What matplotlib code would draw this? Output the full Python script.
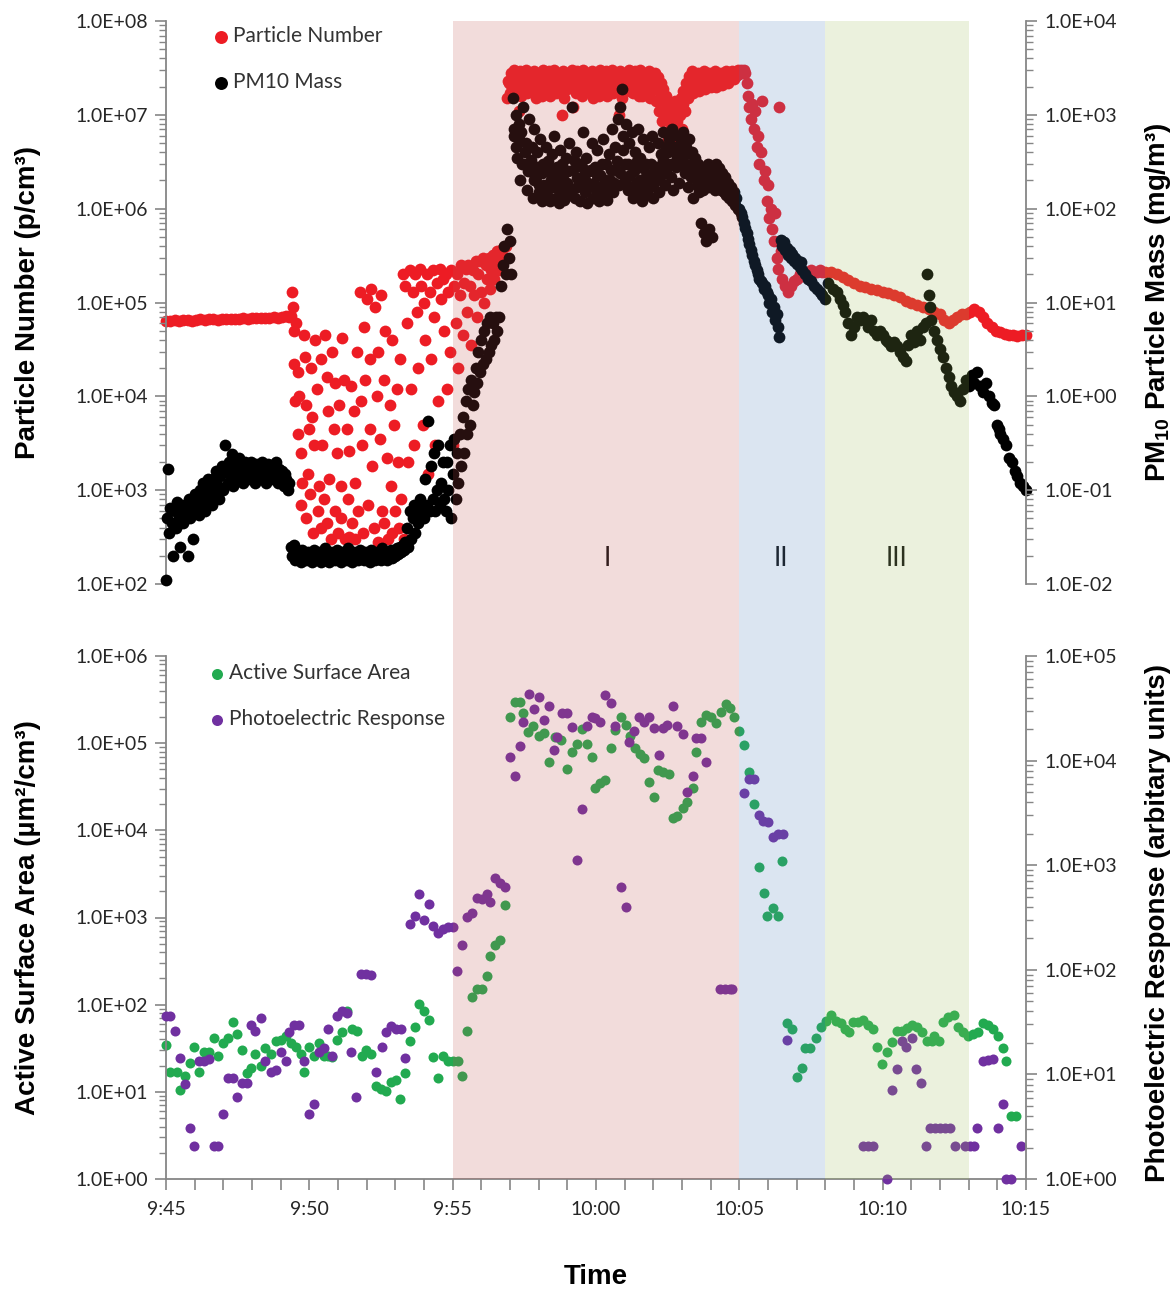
"""
plot.py - particle number / PM10 mass and surface area / photoelectric response vs time.
"""
import matplotlib
matplotlib.use("Agg")
import matplotlib.pyplot as plt
from matplotlib.patches import Rectangle
from matplotlib.ticker import FuncFormatter, LogLocator, MultipleLocator, NullFormatter
from matplotlib.transforms import blended_transform_factory

plt.rcParams["font.family"] = ["Lato", "DejaVu Sans"]
plt.rcParams["mathtext.fontset"] = "custom"
plt.rcParams["mathtext.bf"] = "Liberation Sans:bold"
plt.rcParams["mathtext.rm"] = "Liberation Sans:bold"

# time is minutes after 9:45
START_H, START_M = 9, 45

# (minute, particles per cm3)
PARTICLE_NUMBER = [
    (0.0, 6.4e4), (0.15, 6.4e4), (0.3, 6.5e4), (0.45, 6.4e4), (0.6, 6.5e4), (0.75, 6.5e4),
    (0.9, 6.4e4), (1.05, 6.5e4), (1.2, 6.6e4), (1.35, 6.5e4), (1.5, 6.6e4), (1.65, 6.6e4),
    (1.8, 6.5e4), (1.95, 6.6e4), (2.1, 6.7e4), (2.25, 6.7e4), (2.4, 6.6e4), (2.55, 6.7e4),
    (2.7, 6.8e4), (2.85, 6.7e4), (3.0, 6.8e4), (3.15, 6.8e4), (3.3, 6.9e4), (3.45, 6.8e4),
    (3.6, 6.9e4), (3.75, 7.0e4), (3.9, 6.9e4), (4.05, 7.0e4), (4.2, 7.1e4), (4.3, 7.0e4),
    (4.35, 7.2e4), (4.4, 1.3e5), (4.42, 9e4), (4.45, 5e4), (4.48, 2.2e4), (4.5, 9e3),
    (4.55, 6e4), (4.6, 1.8e4), (4.62, 4e3), (4.65, 1e4), (4.7, 2.5e3), (4.72, 7e2),
    (4.75, 1.2e3), (4.8, 4.5e4), (4.85, 2.6e4), (4.88, 5e2), (4.9, 8e3), (4.95, 1.5e3),
    (5.0, 4.5e3), (5.02, 9e2), (5.05, 2e4), (5.1, 6e3), (5.12, 3.5e2), (5.15, 3e3),
    (5.2, 4e4), (5.25, 1.2e4), (5.3, 6e2), (5.35, 1.1e3), (5.4, 4e2), (5.42, 2.5e4),
    (5.45, 3e3), (5.5, 8e2), (5.55, 4.5e4), (5.6, 1.6e4), (5.62, 4.5e2), (5.65, 7e3),
    (5.7, 1.3e3), (5.75, 3e2), (5.8, 3e4), (5.85, 4.5e3), (5.88, 6e2), (5.9, 1.4e4),
    (5.95, 2.5e3), (6.0, 3.5e2), (6.05, 8e3), (6.1, 1.1e3), (6.12, 5e2), (6.15, 4.2e4),
    (6.2, 1.5e4), (6.25, 3e2), (6.3, 4.5e3), (6.35, 8e2), (6.38, 3.2e2), (6.4, 2.6e3),
    (6.45, 1.3e4), (6.5, 4.5e2), (6.55, 7e3), (6.58, 1.2e3), (6.6, 3e2), (6.65, 3e4),
    (6.7, 6e2), (6.75, 1.3e5), (6.8, 9e3), (6.85, 3e3), (6.88, 3.5e2), (6.9, 5.5e4),
    (6.95, 1.5e4), (7.0, 1.1e5), (7.05, 7e2), (7.1, 2.5e4), (7.12, 4.5e3), (7.15, 1.4e5),
    (7.2, 1.8e3), (7.25, 4e2), (7.3, 9e4), (7.35, 1e4), (7.38, 2.8e2), (7.4, 3e4),
    (7.45, 3.5e3), (7.5, 1.2e5), (7.55, 6e2), (7.6, 1.5e4), (7.62, 4.5e2), (7.65, 5e4),
    (7.7, 2.2e3), (7.75, 3e2), (7.8, 8e3), (7.85, 1.1e3), (7.88, 3.5e2), (7.9, 4e4),
    (7.95, 5e3), (8.0, 6e2), (8.05, 1.2e4), (8.1, 2e3), (8.12, 4e2), (8.15, 2.5e4),
    (8.2, 8e2), (8.25, 2e5), (8.3, 3e2), (8.35, 1.5e5), (8.4, 6e4), (8.45, 2e3),
    (8.5, 2.2e5), (8.55, 1.2e4), (8.6, 1.3e5), (8.65, 3e3), (8.7, 2e5), (8.75, 8e4),
    (8.8, 2e4), (8.85, 2.3e5), (8.9, 1.5e5), (8.95, 5e3), (9.0, 1e5), (9.05, 4e4),
    (9.1, 2e5), (9.15, 1.5e3), (9.2, 1.3e5), (9.25, 2.5e4), (9.3, 2.2e5), (9.35, 7e4),
    (9.4, 3e3), (9.45, 1.6e5), (9.5, 9e3), (9.55, 2.3e5), (9.6, 1.1e5),
    (9.65, 1.8e5), (9.7, 5e4), (9.75, 2e5), (9.8, 1.2e4), (9.85, 1.3e5), (9.9, 3e4),
    (9.95, 2.2e5), (10.0, 3e3), (10.05, 1.5e5), (10.1, 6e4), (10.15, 2e5), (10.2, 2e4),
    (10.25, 1.2e5), (10.3, 2.5e5), (10.35, 4.5e4), (10.4, 1.6e5), (10.45, 2.3e5), (10.5, 8e4),
    (10.55, 2.5e5), (10.6, 1.5e5), (10.65, 3.5e4), (10.7, 2.2e5), (10.75, 1.2e5), (10.8, 2.8e5),
    (10.85, 7e4), (10.9, 2e5), (10.95, 2.8e5), (11.0, 1.3e5), (11.05, 3e5), (11.1, 1e5),
    (11.15, 2.5e5), (11.2, 1.8e5), (11.25, 3e5), (11.3, 1.4e5), (11.35, 2.2e5), (11.4, 3.2e5),
    (11.45, 1.8e5), (11.5, 2.8e5), (11.55, 3.5e5), (11.6, 2.2e5), (11.65, 3.3e5), (11.7, 2.6e5),
    (11.75, 3.8e5), (11.8, 3e5), (11.85, 4e5),
    (11.90, 1.5e7), (11.95, 2.2e7), (12.00, 1.7e7), (12.05, 2.8e7), (12.10, 1.6e7), (12.15, 3.0e7),
    (12.20, 1.9e7), (12.25, 2.6e7), (12.30, 1.1e7), (12.35, 2.9e7), (12.40, 1.6e7), (12.45, 2.5e7),
    (12.50, 2.0e7), (12.55, 3.0e7), (12.60, 1.7e7), (12.65, 2.7e7), (12.70, 1.8e7), (12.75, 2.4e7),
    (12.80, 2.2e7), (12.85, 2.9e7), (12.90, 1.5e7), (12.95, 2.6e7), (13.00, 1.9e7), (13.05, 2.8e7),
    (13.10, 1.6e7), (13.15, 3.0e7), (13.20, 2.1e7), (13.25, 2.6e7), (13.30, 1.7e7), (13.35, 2.9e7),
    (13.40, 1.6e7), (13.45, 2.5e7), (13.50, 2.0e7), (13.55, 3.0e7), (13.60, 1.7e7), (13.65, 2.7e7),
    (13.70, 1.8e7), (13.75, 2.4e7), (13.80, 1.0e7), (13.85, 2.9e7), (13.90, 1.5e7), (13.95, 2.6e7),
    (14.00, 1.9e7), (14.05, 2.8e7), (14.10, 2.2e7), (14.15, 3.0e7), (14.20, 1.2e7), (14.25, 2.6e7),
    (14.30, 1.7e7), (14.35, 2.9e7), (14.40, 2.1e7), (14.45, 2.5e7), (14.50, 1.6e7), (14.55, 3.0e7),
    (14.60, 1.8e7), (14.65, 2.7e7), (14.70, 1.8e7), (14.75, 2.4e7), (14.80, 2.2e7), (14.85, 2.9e7),
    (14.90, 1.5e7), (14.95, 2.6e7), (15.00, 1.9e7), (15.05, 2.8e7), (15.10, 1.6e7), (15.15, 3.0e7),
    (15.20, 2.0e7), (15.25, 2.6e7), (15.30, 1.7e7), (15.35, 2.9e7), (15.40, 1.6e7), (15.45, 2.5e7),
    (15.50, 2.1e7), (15.55, 3.0e7), (15.60, 1.7e7), (15.65, 2.7e7), (15.70, 1.8e7), (15.75, 2.4e7),
    (15.80, 1.0e7), (15.85, 2.9e7), (15.90, 1.5e7), (15.95, 2.6e7), (16.00, 1.9e7), (16.05, 2.8e7),
    (16.10, 2.2e7), (16.15, 3.0e7), (16.20, 1.8e7), (16.25, 2.6e7), (16.30, 1.7e7), (16.35, 2.9e7),
    (16.40, 2.0e7), (16.45, 2.5e7), (16.50, 1.6e7), (16.55, 3.0e7), (16.60, 1.6e7), (16.65, 2.7e7),
    (16.70, 1.8e7), (16.75, 2.4e7), (16.80, 2.2e7), (16.85, 2.9e7), (16.90, 1.5e7), (16.95, 2.6e7),
    (17.00, 1.9e7), (17.05, 2.8e7), (17.10, 1.4e7), (17.15, 2.5e7), (17.20, 1.1e7), (17.25, 2.2e7),
    (17.30, 8.5e6), (17.35, 1.9e7), (17.40, 6.5e6), (17.45, 1.6e7), (17.50, 5.5e6), (17.55, 1.3e7),
    (17.60, 4.5e6), (17.65, 1.1e7), (17.70, 6.0e6), (17.75, 1.4e7), (17.80, 5.0e6), (17.85, 1.2e7),
    (17.90, 4.3e6), (17.95, 1.5e7), (18.00, 7.0e6), (18.05, 1.8e7), (18.10, 1.1e7), (18.15, 2.2e7),
    (18.20, 1.5e7), (18.25, 2.6e7), (18.30, 1.9e7), (18.35, 2.9e7), (18.40, 1.7e7), (18.45, 2.5e7),
    (18.50, 2.1e7), (18.55, 2.8e7), (18.60, 1.8e7), (18.65, 2.4e7), (18.70, 2.2e7), (18.75, 2.9e7),
    (18.80, 1.9e7), (18.85, 2.6e7), (18.90, 2.3e7), (18.95, 2.8e7), (19.00, 2.0e7), (19.05, 2.5e7),
    (19.10, 2.2e7), (19.15, 2.9e7), (19.20, 2.0e7), (19.25, 2.6e7), (19.30, 2.3e7), (19.35, 2.8e7),
    (19.40, 2.1e7), (19.45, 2.6e7), (19.50, 2.4e7), (19.55, 2.9e7), (19.60, 2.2e7), (19.65, 2.7e7),
    (19.70, 2.5e7), (19.75, 2.9e7), (19.80, 2.4e7), (19.85, 2.8e7), (19.90, 2.6e7), (19.95, 3.0e7),
    (20.00, 2.7e7), (20.05, 3.0e7), (20.10, 2.9e7), (20.15, 3.0e7),
    (11.925, 2.3e7), (12.025, 2.1e7), (12.125, 2.4e7), (12.225, 2.2e7), (12.325, 2.0e7),
    (12.425, 2.6e7), (12.525, 2.3e7), (12.625, 2.1e7), (12.725, 2.5e7), (12.825, 2.0e7),
    (12.925, 2.4e7), (13.025, 2.2e7), (13.125, 2.6e7), (13.225, 2.0e7), (13.325, 2.3e7),
    (13.425, 2.1e7), (13.525, 2.5e7), (13.625, 2.2e7), (13.725, 2.0e7), (13.825, 2.4e7),
    (13.925, 2.2e7), (14.025, 2.6e7), (14.125, 2.0e7), (14.225, 2.3e7), (14.325, 2.1e7),
    (14.425, 2.5e7), (14.525, 2.2e7), (14.625, 2.0e7), (14.725, 2.4e7), (14.825, 2.2e7),
    (14.925, 2.6e7), (15.025, 2.0e7), (15.125, 2.3e7), (15.225, 2.1e7), (15.325, 2.5e7),
    (15.425, 2.2e7), (15.525, 2.0e7), (15.625, 2.4e7), (15.725, 2.2e7), (15.825, 2.6e7),
    (15.925, 2.0e7), (16.025, 2.3e7), (16.125, 2.1e7), (16.225, 2.5e7), (16.325, 2.2e7),
    (16.425, 2.0e7), (16.525, 2.4e7), (16.625, 2.2e7), (16.725, 2.6e7), (16.825, 2.0e7),
    (16.925, 2.3e7), (17.025, 2.1e7), (17.125, 1.9e7), (17.225, 1.7e7), (17.325, 1.4e7),
    (17.425, 1.1e7), (17.525, 9e6), (17.625, 8e6), (17.725, 9.5e6), (17.825, 8.5e6),
    (17.925, 1.0e7), (18.025, 1.3e7), (18.125, 1.6e7), (18.225, 2.0e7), (18.325, 2.3e7),
    (18.425, 2.1e7), (18.525, 2.4e7), (18.625, 2.2e7), (18.725, 2.6e7), (18.825, 2.3e7),
    (18.925, 2.5e7), (19.025, 2.3e7), (19.125, 2.6e7), (19.225, 2.4e7), (19.325, 2.6e7),
    (19.425, 2.5e7), (19.525, 2.7e7), (19.625, 2.5e7), (19.725, 2.7e7), (19.825, 2.6e7),
    (19.925, 2.8e7), (20.025, 2.8e7),
    (20.2, 2.8e7), (20.25, 2.2e7), (20.3, 1.6e7), (20.35, 1.2e7), (20.4, 9e6), (20.45, 1.3e7),
    (20.5, 7e6), (20.55, 1.1e7), (20.6, 4.5e6), (20.65, 6e6), (20.7, 3e6), (20.75, 4e6),
    (20.8, 1.4e7), (20.85, 2e6), (20.9, 2.5e6), (20.95, 1.2e6), (21.0, 1.8e6), (21.05, 8e5),
    (21.1, 1e6), (21.15, 6e5), (21.2, 4.5e5), (21.25, 9e5), (21.3, 3e5), (21.35, 2.3e5),
    (21.4, 1.2e7), (21.45, 3.5e5), (21.5, 1.8e5), (21.6, 1.5e5), (21.7, 1.3e5), (21.8, 1.5e5),
    (21.9, 1.7e5), (22.0, 1.8e5), (22.1, 2e5), (22.2, 1.9e5), (22.3, 2e5), (22.4, 2.1e5),
    (22.5, 2.2e5), (22.6, 2.1e5), (22.7, 2.1e5), (22.8, 2.2e5), (22.9, 2.1e5), (23.0, 2.1e5),
    (23.2, 2.1e5), (23.4, 2e5), (23.6, 1.85e5), (23.8, 1.75e5), (24.0, 1.6e5), (24.2, 1.5e5),
    (24.4, 1.45e5), (24.6, 1.4e5), (24.8, 1.35e5), (25.0, 1.3e5), (25.2, 1.25e5), (25.4, 1.2e5),
    (25.6, 1.15e5), (25.8, 1.05e5), (26.0, 1e5), (26.2, 9.5e4), (26.4, 9e4), (26.6, 8.5e4),
    (26.8, 8e4), (27.0, 7.5e4), (27.15, 6.5e4), (27.3, 6e4), (27.45, 6.5e4), (27.6, 7e4),
    (27.75, 7.5e4), (27.9, 7.5e4), (28.05, 8e4), (28.2, 8.5e4), (28.35, 8e4), (28.5, 7e4),
    (28.65, 6e4), (28.8, 5.5e4), (28.95, 5e4), (29.1, 4.8e4), (29.25, 4.6e4), (29.4, 4.5e4),
    (29.55, 4.5e4), (29.7, 4.4e4), (29.85, 4.5e4), (30.0, 4.5e4),
]

# (minute, PM10 mass mg/m3)
PM10_MASS = [
    (0.0, 0.011), (0.03, 0.05), (0.06, 0.17), (0.1, 0.035), (0.15, 0.065), (0.2, 0.045),
    (0.25, 0.02), (0.3, 0.06), (0.35, 0.04), (0.4, 0.075), (0.45, 0.05), (0.5, 0.025),
    (0.55, 0.07), (0.6, 0.045), (0.65, 0.06), (0.7, 0.05), (0.75, 0.02), (0.8, 0.08),
    (0.85, 0.05), (0.9, 0.07), (0.95, 0.03), (1.0, 0.09), (1.05, 0.06), (1.1, 0.08),
    (1.15, 0.055), (1.2, 0.1), (1.25, 0.07), (1.3, 0.12), (1.35, 0.06), (1.4, 0.09),
    (1.45, 0.13), (1.5, 0.08), (1.55, 0.11), (1.6, 0.07), (1.65, 0.13), (1.7, 0.09),
    (1.75, 0.16), (1.8, 0.11), (1.85, 0.08), (1.9, 0.14), (1.95, 0.18), (2.0, 0.1),
    (2.05, 0.3), (2.1, 0.16), (2.15, 0.12), (2.2, 0.2), (2.25, 0.14), (2.3, 0.24),
    (2.35, 0.11), (2.4, 0.17), (2.45, 0.2), (2.5, 0.13), (2.55, 0.22), (2.6, 0.15),
    (2.65, 0.18), (2.7, 0.12), (2.75, 0.2), (2.8, 0.15), (2.85, 0.17), (2.9, 0.13),
    (2.95, 0.2), (3.0, 0.15), (3.05, 0.18), (3.1, 0.12), (3.15, 0.19), (3.2, 0.15),
    (3.25, 0.17), (3.3, 0.13), (3.35, 0.2), (3.4, 0.16), (3.45, 0.18), (3.5, 0.12),
    (3.55, 0.19), (3.6, 0.15), (3.65, 0.17), (3.7, 0.13), (3.75, 0.18), (3.8, 0.15),
    (3.85, 0.2), (3.9, 0.12), (3.95, 0.17), (4.0, 0.14), (4.05, 0.16), (4.1, 0.11),
    (4.15, 0.15), (4.2, 0.13), (4.25, 0.1), (4.3, 0.12),
    (4.35, 0.025), (4.4, 0.02), (4.45, 0.026), (4.5, 0.018), (4.55, 0.022), (4.6, 0.019),
    (4.65, 0.021), (4.7, 0.017), (4.75, 0.023), (4.8, 0.019), (4.85, 0.02), (4.9, 0.018),
    (4.95, 0.022), (5.0, 0.019), (5.05, 0.021), (5.1, 0.017), (5.15, 0.023), (5.2, 0.018),
    (5.25, 0.02), (5.3, 0.019), (5.35, 0.022), (5.4, 0.017), (5.45, 0.021), (5.5, 0.019),
    (5.55, 0.024), (5.6, 0.018), (5.65, 0.02), (5.7, 0.017), (5.75, 0.022), (5.8, 0.019),
    (5.85, 0.021), (5.9, 0.018), (5.95, 0.023), (6.0, 0.019), (6.05, 0.02), (6.1, 0.017),
    (6.15, 0.022), (6.2, 0.019), (6.25, 0.021), (6.3, 0.018), (6.35, 0.024), (6.4, 0.019),
    (6.45, 0.02), (6.5, 0.017), (6.55, 0.022), (6.6, 0.019), (6.65, 0.021), (6.7, 0.018),
    (6.75, 0.023), (6.8, 0.019), (6.85, 0.02), (6.9, 0.018), (6.95, 0.022), (7.0, 0.019),
    (7.05, 0.021), (7.1, 0.017), (7.15, 0.023), (7.2, 0.019), (7.25, 0.02), (7.3, 0.018),
    (7.35, 0.022), (7.4, 0.019), (7.45, 0.021), (7.5, 0.018), (7.55, 0.024), (7.6, 0.019),
    (7.65, 0.021), (7.7, 0.018), (7.75, 0.022), (7.8, 0.02), (7.85, 0.023), (7.9, 0.019),
    (7.95, 0.022), (8.0, 0.02), (8.05, 0.024), (8.1, 0.021), (8.15, 0.025), (8.2, 0.022),
    (8.25, 0.026), (8.3, 0.023), (8.35, 0.028),
    (8.4, 0.04), (8.45, 0.025), (8.5, 0.06), (8.55, 0.03), (8.6, 0.05), (8.65, 0.07),
    (8.7, 0.035), (8.75, 0.06), (8.8, 0.045), (8.85, 0.08), (8.9, 0.05), (8.95, 0.065),
    (9.0, 0.05), (9.05, 0.13), (9.1, 0.07), (9.15, 0.55), (9.2, 0.06), (9.25, 0.18),
    (9.3, 0.08), (9.35, 0.25), (9.4, 0.06), (9.45, 0.1), (9.5, 0.3), (9.55, 0.07),
    (9.6, 0.12), (9.65, 0.2), (9.7, 0.08),
    (9.75, 0.06), (9.8, 0.2), (9.85, 0.1), (9.9, 0.3), (9.95, 0.05), (10.0, 0.15),
    (10.05, 0.35), (10.1, 0.08), (10.15, 0.25), (10.2, 0.12), (10.25, 0.4), (10.3, 0.18),
    (10.35, 0.6), (10.4, 0.25), (10.45, 0.9), (10.5, 0.4), (10.55, 1.2), (10.6, 0.5),
    (10.65, 1.5), (10.7, 0.8), (10.75, 1.1), (10.8, 2), (10.85, 1.4), (10.9, 3),
    (10.95, 1.8), (11.0, 4), (11.05, 2.2), (11.1, 5), (11.15, 2.5), (11.2, 6),
    (11.25, 3), (11.3, 7), (11.35, 3.5), (11.4, 6), (11.45, 4), (11.5, 7),
    (11.55, 5), (11.6, 7), (11.7, 15), (11.75, 25), (11.8, 40), (11.85, 20),
    (11.9, 60), (11.95, 30), (12.0, 45), (12.05, 20),
    (12.10, 1500), (12.15, 600), (12.20, 1000), (12.25, 350), (12.30, 800), (12.35, 200),
    (12.40, 650), (12.45, 1200), (12.50, 300), (12.55, 500), (12.60, 160), (12.65, 900),
    (12.70, 250), (12.75, 450), (12.80, 130), (12.85, 700), (12.90, 220), (12.95, 400),
    (13.00, 150), (13.05, 550), (13.10, 120), (13.15, 300), (13.20, 180), (13.25, 450),
    (13.30, 140), (13.35, 250), (13.40, 120), (13.45, 380), (13.50, 170), (13.55, 600),
    (13.60, 130), (13.65, 280), (13.70, 115), (13.75, 420), (13.80, 160), (13.85, 230),
    (13.90, 125), (13.95, 350), (14.00, 190), (14.05, 500), (14.10, 140), (14.15, 1200),
    (14.20, 260), (14.25, 130), (14.30, 400), (14.35, 170), (14.40, 300), (14.45, 120),
    (14.50, 220), (14.55, 650), (14.60, 150), (14.65, 350), (14.70, 115), (14.75, 250),
    (14.80, 180), (14.85, 500), (14.90, 130), (14.95, 280), (15.00, 160), (15.05, 420),
    (15.10, 120), (15.15, 230), (15.20, 170), (15.25, 550), (15.30, 140), (15.35, 300),
    (15.40, 125), (15.45, 380), (15.50, 200), (15.55, 700), (15.60, 150), (15.65, 450),
    (15.70, 260), (15.75, 900), (15.80, 180), (15.85, 1200), (15.90, 1900), (15.95, 600),
    (16.00, 300), (16.05, 800), (16.10, 160), (16.15, 500), (16.20, 230), (16.25, 650),
    (16.30, 130), (16.35, 400), (16.40, 190), (16.45, 700), (16.50, 150), (16.55, 350),
    (16.60, 120), (16.65, 550), (16.70, 210), (16.75, 300), (16.80, 140), (16.85, 450),
    (16.90, 170), (16.95, 600), (17.00, 130), (17.05, 260), (17.10, 200), (17.15, 500),
    (17.20, 150), (17.25, 380), (17.30, 250), (17.35, 650), (17.40, 180), (17.45, 450),
    (17.50, 300), (17.55, 550), (17.60, 220), (17.65, 700), (17.70, 160), (17.75, 400),
    (17.80, 280), (17.85, 600), (17.90, 190), (17.95, 500), (18.00, 350), (18.05, 650),
    (18.10, 240), (18.15, 450), (18.20, 170), (18.25, 550), (18.30, 300), (18.35, 400),
    (18.40, 130), (18.45, 350), (18.50, 220), (18.55, 300), (18.60, 150), (18.65, 70),
    (18.70, 260), (18.75, 55), (18.80, 180), (18.85, 45), (18.90, 300), (18.95, 60),
    (19.00, 200), (19.05, 50), (19.10, 250), (19.15, 160), (19.20, 300), (19.25, 180),
    (19.30, 270), (19.35, 160), (19.40, 240), (19.45, 150), (19.50, 220), (19.55, 140),
    (19.60, 190), (19.65, 130), (19.70, 170), (19.75, 120), (19.80, 150), (19.85, 110),
    (19.90, 130), (19.95, 100),
    (12.125, 700), (12.225, 450), (12.325, 550), (12.425, 300), (12.525, 400), (12.625, 250),
    (12.725, 330), (12.825, 200), (12.925, 280), (13.025, 180), (13.125, 240), (13.225, 150),
    (13.325, 320), (13.425, 200), (13.525, 260), (13.625, 170), (13.725, 220), (13.825, 300),
    (13.925, 180), (14.025, 250), (14.125, 160), (14.225, 330), (14.325, 210), (14.425, 180),
    (14.525, 280), (14.625, 200), (14.725, 170), (14.825, 260), (14.925, 190), (15.025, 230),
    (15.125, 160), (15.225, 300), (15.325, 200), (15.425, 170), (15.525, 260), (15.625, 190),
    (15.725, 320), (15.825, 240), (15.925, 420), (16.025, 200), (16.125, 300), (16.225, 170),
    (16.325, 250), (16.425, 320), (16.525, 200), (16.625, 270), (16.725, 170), (16.825, 230),
    (16.925, 300), (17.025, 190), (17.125, 280), (17.225, 220), (17.325, 330), (17.425, 260),
    (17.525, 400), (17.625, 300), (17.725, 450), (17.825, 350), (17.925, 420), (18.025, 300),
    (18.125, 380), (18.225, 280), (18.325, 220), (18.425, 250), (18.525, 180), (18.625, 220),
    (18.725, 160), (18.825, 230), (18.925, 170), (19.025, 250), (19.125, 200), (19.225, 230),
    (19.325, 200), (19.425, 190), (19.525, 170), (19.625, 160), (19.725, 140), (19.825, 130),
    (20.0, 100), (20.05, 90), (20.1, 82), (20.15, 70), (20.2, 62), (20.25, 55),
    (20.3, 48), (20.35, 42), (20.4, 36), (20.45, 32), (20.5, 28), (20.55, 25),
    (20.6, 22), (20.65, 20), (20.7, 18), (20.75, 17), (20.8, 16), (20.85, 14),
    (20.9, 15), (20.95, 13), (21.0, 12), (21.05, 10), (21.1, 11), (21.15, 8),
    (21.2, 9), (21.25, 6.5), (21.3, 7.5), (21.35, 5.5), (21.4, 4.3), (21.45, 46),
    (21.5, 40), (21.55, 44), (21.6, 36), (21.65, 38), (21.7, 32), (21.75, 35),
    (21.8, 30), (21.85, 33), (21.9, 28), (21.95, 30), (22.0, 26), (22.05, 28),
    (22.1, 24), (22.15, 27), (22.2, 22), (22.3, 20), (22.4, 18), (22.5, 17),
    (22.6, 15), (22.7, 14), (22.8, 13), (22.9, 12), (23.0, 11), (23.1, 16),
    (23.25, 14), (23.4, 13), (23.5, 11), (23.6, 9.3), (23.7, 8), (23.8, 6),
    (23.9, 4.5), (24.0, 5.5), (24.1, 7), (24.2, 6.5), (24.3, 7), (24.4, 6.5),
    (24.5, 5.5), (24.6, 6.5), (24.7, 5), (24.8, 4.5), (24.9, 5), (25.0, 4.5),
    (25.1, 4), (25.2, 3.8), (25.3, 3.4), (25.4, 3.8), (25.5, 3.4), (25.6, 3),
    (25.7, 2.6), (25.8, 2.4), (25.9, 3.5), (26.0, 4.5), (26.1, 3.8), (26.2, 5),
    (26.3, 4), (26.4, 5.5), (26.5, 6), (26.55, 20), (26.6, 12), (26.65, 9),
    (26.7, 6.5), (26.8, 5), (26.9, 4), (27.0, 3.2), (27.1, 2.6), (27.2, 2),
    (27.3, 1.6), (27.4, 1.3), (27.5, 1.1), (27.6, 1.0), (27.7, 0.9), (27.8, 1.2),
    (27.9, 1.5), (28.0, 1.3), (28.1, 1.7), (28.2, 1.4), (28.3, 1.8), (28.4, 1.3),
    (28.5, 1.1), (28.6, 1.4), (28.7, 1.0), (28.8, 0.85), (28.9, 0.8), (29.0, 0.5),
    (29.05, 0.45), (29.1, 0.4), (29.2, 0.35), (29.3, 0.3), (29.4, 0.22), (29.5, 0.2),
    (29.6, 0.16), (29.7, 0.14), (29.8, 0.12), (29.9, 0.11), (30.0, 0.1),
]

# (minute, um2/cm3)
ACTIVE_SURFACE_AREA = [
    (0.0, 34.6), (0.15, 17.1), (0.38, 17.1), (0.5, 10.4), (0.65, 15.3), (0.82, 21.6),
    (0.97, 33), (1.14, 17.1), (1.32, 28.6), (1.49, 28.6), (1.67, 41.7), (1.82, 26),
    (1.98, 36), (2.16, 41.7), (2.33, 62.5), (2.48, 45.8), (2.66, 30), (2.83, 16.3),
    (2.97, 18.8), (3.12, 27.3), (3.3, 19.7), (3.47, 31.5), (3.65, 27.3), (3.82, 38),
    (4.0, 39.8), (4.17, 43.7), (4.35, 36), (4.52, 33), (4.7, 27.3), (4.81, 17.1),
    (4.99, 33), (5.16, 26), (5.34, 36), (5.51, 26), (5.66, 26), (5.8, 24.9),
    (5.98, 39.8), (6.15, 48), (6.33, 84.5), (6.5, 52.7), (6.68, 50.3), (6.82, 26),
    (6.99, 30), (7.14, 27.3), (7.32, 11.7), (7.49, 10.7), (7.67, 10.2), (7.84, 12.9),
    (8.02, 13.5), (8.16, 8.2), (8.33, 16.3), (8.51, 38), (8.68, 55.3), (8.83, 102),
    (9.01, 84.5), (9.16, 66.7), (9.32, 24.9), (9.5, 14.4), (9.65, 26), (9.83, 22.6),
    (10.0, 22.6), (10.17, 22.6), (10.33, 15.3), (10.49, 50), (10.67, 123), (10.84, 151),
    (11.03, 151), (11.2, 215), (11.31, 360), (11.46, 480), (11.66, 550), (11.83, 1390),
    (12.0, 1.97e5), (12.18, 2.94e5), (12.36, 2.94e5), (12.47, 2.22e5), (12.63, 1.35e5),
    (12.8, 1.56e5), (13.0, 1.2e5), (13.17, 1.31e5), (13.35, 6.1e4), (13.56, 1.17e5),
    (13.79, 1.09e5), (13.99, 5.1e4), (14.17, 7.9e4), (14.34, 9.9e4), (14.52, 1.44e5),
    (14.69, 9.9e4), (14.87, 7e4), (14.96, 3.1e4), (15.13, 3.5e4), (15.31, 3.8e4),
    (15.51, 8.9e4), (15.68, 1.42e5), (15.86, 1.97e5), (16.03, 1.63e5), (16.18, 1.2e5),
    (16.36, 8.9e4), (16.53, 7.5e4), (16.69, 6.7e4), (16.85, 3.6e4), (17.02, 2.4e4),
    (17.18, 4.9e4), (17.35, 4.7e4), (17.53, 4.4e4), (17.67, 1.4e4), (17.84, 1.46e4),
    (18.02, 1.8e4), (18.19, 2.1e4), (18.37, 3.1e4), (18.48, 7.9e4), (18.66, 1.74e5),
    (18.83, 2.1e5), (19.0, 1.97e5), (19.18, 1.71e5), (19.36, 2.3e5), (19.53, 2.8e5),
    (19.68, 2.5e5), (19.82, 2.0e5), (20.0, 1.39e5), (20.17, 9.5e4), (20.35, 4.7e4),
    (20.51, 2.0e4), (20.7, 3.8e3), (20.86, 1.9e3), (20.98, 1.05e3), (21.16, 1.3e3),
    (21.36, 1.05e3), (21.5, 4.4e3), (21.67, 61), (21.85, 53), (22.02, 14.8),
    (22.17, 18.8), (22.29, 31.5), (22.47, 31.5), (22.67, 41.7), (22.84, 55.3),
    (23.01, 65), (23.19, 77), (23.37, 65), (23.53, 61), (23.69, 53), (23.84, 48),
    (23.98, 64), (24.15, 64), (24.33, 66.7), (24.5, 58), (24.65, 52), (24.81, 33),
    (24.99, 21), (25.16, 28.6), (25.34, 36.9), (25.49, 50.3), (25.66, 50.3), (25.84, 53.8),
    (26.01, 59), (26.19, 55.3), (26.36, 48), (26.53, 38), (26.71, 38), (26.79, 43.7),
    (26.98, 38), (27.12, 64), (27.29, 73), (27.49, 77), (27.64, 55.3), (27.81, 48),
    (27.99, 43.7), (28.16, 45.8), (28.34, 48), (28.51, 61), (28.69, 58), (28.86, 52.7),
    (29.03, 43.7), (29.19, 31.5), (29.3, 22.6), (29.48, 5.3), (29.65, 5.3),
]

# (minute, arbitrary units)
PHOTOELECTRIC_RESPONSE = [
    (0.0, 35.8), (0.15, 35.8), (0.33, 26.2), (0.5, 14.3), (0.65, 8.1), (0.82, 3.04),
    (0.99, 2.06), (1.14, 13.5), (1.32, 13.5), (1.49, 14), (1.67, 2.06), (1.82, 2.06),
    (1.98, 4.16), (2.16, 9.25), (2.33, 9.25), (2.48, 6.06), (2.66, 8.28), (2.83, 8.28),
    (2.97, 29.5), (3.12, 26.2), (3.3, 34.4), (3.47, 13.5), (3.65, 10.5), (3.82, 11.1),
    (4.0, 16.4), (4.17, 13.5), (4.3, 25.2), (4.47, 29.5), (4.65, 29.5), (4.81, 13.5),
    (4.99, 4.16), (5.16, 5.2), (5.34, 16.4), (5.51, 17.7), (5.66, 27.2), (5.8, 15.1),
    (5.98, 35.8), (6.15, 40.3), (6.33, 38.7), (6.47, 16.4), (6.64, 6.06), (6.8, 91.8),
    (6.97, 91.8), (7.14, 88.3), (7.34, 10.5), (7.52, 18.4), (7.67, 25.2), (7.84, 29),
    (8.02, 27.2), (8.19, 27.2), (8.33, 14.3), (8.51, 275), (8.68, 329), (8.83, 526),
    (9.01, 297), (9.16, 430), (9.32, 264), (9.5, 226), (9.65, 248), (9.83, 254),
    (10.0, 254), (10.14, 96.8), (10.32, 172), (10.49, 321), (10.67, 347), (10.84, 487),
    (11.02, 475), (11.19, 526), (11.31, 440), (11.48, 760), (11.66, 676), (11.83, 615),
    (12.0, 1.09e4), (12.18, 7.2e3), (12.36, 1.38e4), (12.47, 2.33e4), (12.65, 4.36e4),
    (12.82, 3.14e4), (13.0, 4.03e4), (13.17, 2.44e4), (13.35, 3.34e4), (13.52, 1.27e4),
    (13.64, 1.67e4), (13.82, 2.88e4), (13.99, 2.88e4), (14.17, 2.09e4), (14.34, 1.12e3),
    (14.52, 3.44e3), (14.69, 2.15e4), (14.87, 2.64e4), (14.98, 2.58e4), (15.13, 2.33e4),
    (15.33, 4.22e4), (15.51, 3.53e4), (15.68, 2.15e4), (15.86, 615), (16.03, 397),
    (16.15, 1.49e4), (16.32, 1.93e4), (16.5, 2.64e4), (16.67, 2.33e4), (16.85, 2.64e4),
    (17.02, 2.04e4), (17.2, 1.13e4), (17.32, 2.04e4), (17.49, 2.21e4), (17.67, 3.34e4),
    (17.84, 2.12e4), (18.02, 1.79e4), (18.19, 4.98e3), (18.37, 7.08e3), (18.48, 1.65e4),
    (18.66, 1.65e4), (18.83, 9.7e3), (19.31, 65.5), (19.49, 65.5), (19.66, 65.5),
    (19.73, 65.5), (20.16, 4.87e3), (20.35, 6.65e3), (20.51, 6.65e3), (20.7, 3.04e3),
    (20.84, 2.64e3), (21.01, 2.6e3), (21.16, 1.87e3), (21.34, 1.98e3), (21.51, 2.0e3),
    (21.67, 21.5), (24.33, 2.06), (24.5, 2.06), (24.67, 2.06), (25.16, 1.0),
    (25.34, 7.08), (25.51, 11.3), (25.66, 20.7), (25.81, 18.4), (26.01, 22.4),
    (26.16, 11.3), (26.33, 8.28), (26.51, 2.06), (26.65, 3.04), (26.83, 3.04),
    (27.0, 3.04), (27.17, 3.04), (27.35, 3.04), (27.52, 2.06), (27.87, 2.06),
    (28.05, 2.06), (28.19, 2.06), (28.3, 3.04), (28.51, 13.5), (28.69, 13.7),
    (28.86, 14), (29.01, 3.04), (29.19, 5.2), (29.3, 1.0), (29.48, 1.0), (29.83, 2.06),
]

# shaded phases (start, end minute), labels and overlay colours
PHASES = [(10, 20), (20, 23), (23, 28)]
PHASE_LABELS = ["I", "II", "III"]
PHASE_LABEL_X = [15.4, 21.45, 25.5]
PHASE_COLORS = ["#C0504D", "#4F81BD", "#9BBB59"]

RED, BLACK, GREEN, PURPLE = "#ED1C24", "#000000", "#22AA50", "#7030A0"
AXIS_GREY = "#868686"
TICK_TEXT = "#262626"
LABEL_FONT = dict(family="Liberation Sans", weight="bold", size=20)

W, H = 1174, 1289
X_LEFT, X_RIGHT = 166, 1026


def box(top, bottom):
    return [X_LEFT / W, 1 - bottom / H, (X_RIGHT - X_LEFT) / W, (bottom - top) / H]


def sci(v, _pos):
    return f"{v:.1E}"


def style_log_axis(ax, lo, hi):
    ax.set_yscale("log")
    ax.set_ylim(lo, hi)
    ax.yaxis.set_major_locator(LogLocator(base=10, numticks=20))
    ax.yaxis.set_minor_locator(LogLocator(base=10, subs=range(2, 10), numticks=20))
    ax.yaxis.set_minor_formatter(NullFormatter())
    ax.yaxis.set_major_formatter(FuncFormatter(sci))
    ax.tick_params(axis="y", which="major", length=8, width=1.2, color=AXIS_GREY,
                   labelsize=14, labelcolor=TICK_TEXT, pad=5)
    ax.tick_params(axis="y", which="minor", length=5, width=1.0, color=AXIS_GREY)
    for s in ax.spines.values():
        s.set_visible(False)
        s.set_color(AXIS_GREY)
        s.set_linewidth(1.3)
    ax.set_facecolor("none")


def time_label(m, _pos):
    m = int(round(m))
    if m % 5:
        return ""
    total = START_H * 60 + START_M + m
    return f"{total // 60}:{total % 60:02d}"


def unzip(pairs):
    return [p[0] for p in pairs], [p[1] for p in pairs]


def add_legend(ax, handles, labels, x_px, top_px):
    ax.legend(handles, labels, loc="upper left",
              bbox_to_anchor=(x_px / W, 1 - top_px / H), bbox_transform=fig.transFigure,
              frameon=False, fontsize=15, handletextpad=0.2, handlelength=0.7,
              labelspacing=1.25, borderaxespad=0, borderpad=0, markerscale=1.1,
              labelcolor="#333333")


fig = plt.figure(figsize=(W / 100, H / 100), dpi=100)

# --- top panel: particle number / PM10 mass
ax1 = fig.add_axes(box(21, 584))
ax1r = ax1.twinx()
style_log_axis(ax1, 1e2, 1e8)
style_log_axis(ax1r, 1e-2, 1e4)
ax1.spines["left"].set_visible(True)
ax1r.spines["right"].set_visible(True)
ax1.set_xlim(0, 30)
ax1.tick_params(axis="x", bottom=False, labelbottom=False)

t, v = unzip(PARTICLE_NUMBER)
sc_pn = ax1.scatter(t, v, s=72, color=RED, linewidths=0, clip_on=False)
t, v = unzip(PM10_MASS)
sc_pm = ax1r.scatter(t, v, s=72, color=BLACK, linewidths=0, clip_on=False)

ax1.set_ylabel("Particle Number (p/cm³)", fontdict=LABEL_FONT, va="center")
ax1.yaxis.set_label_coords(-0.1605, 0.5)
ax1r.set_ylabel(r"PM$_{\mathbf{10}}$ Particle Mass (mg/m³)", fontdict=LABEL_FONT, va="center")
ax1r.yaxis.set_label_coords(1.1535, 0.5)

for lab, x in zip(PHASE_LABELS, PHASE_LABEL_X):
    ax1.text(x, 0.046, lab, transform=ax1.get_xaxis_transform(), ha="center", va="center",
             fontsize=19, color="#111111")

add_legend(ax1r, [sc_pn, sc_pm], ["Particle Number", "PM10 Mass"], 214, 26)

# --- bottom panel: active surface area / photoelectric response
ax2 = fig.add_axes(box(656, 1179))
ax2r = ax2.twinx()
style_log_axis(ax2, 1e0, 1e6)
style_log_axis(ax2r, 1e0, 1e5)
ax2.spines["left"].set_visible(True)
ax2.spines["bottom"].set_visible(True)
ax2r.spines["right"].set_visible(True)
ax2.set_xlim(0, 30)
ax2.xaxis.set_major_locator(MultipleLocator(1))
ax2.xaxis.set_major_formatter(FuncFormatter(time_label))
ax2.tick_params(axis="x", length=8, width=1.2, color=AXIS_GREY, labelsize=14,
                labelcolor=TICK_TEXT, pad=8)

t, v = unzip(ACTIVE_SURFACE_AREA)
sc_asa = ax2.scatter(t, v, s=52, color=GREEN, linewidths=0, clip_on=False)
t, v = unzip(PHOTOELECTRIC_RESPONSE)
sc_per = ax2r.scatter(t, v, s=52, color=PURPLE, linewidths=0, clip_on=False)

ax2.set_ylabel("Active Surface Area (µm²/cm³)", fontdict=LABEL_FONT, va="center")
ax2.yaxis.set_label_coords(-0.1605, 0.5)
ax2r.set_ylabel("Photoelectric Response (arbitary units)", fontdict=LABEL_FONT, va="center")
ax2r.yaxis.set_label_coords(1.1535, 0.49)
ax2.set_xlabel("Time", fontdict=LABEL_FONT, va="center")
ax2.xaxis.set_label_coords(0.5, (1179 - 1277) / (1179 - 656))

add_legend(ax2r, [sc_asa, sc_per], ["Active Surface Area", "Photoelectric Response"], 210, 663)

# translucent phase overlays spanning both panels
trans = blended_transform_factory(ax2.transData, fig.transFigure)
for (x0, x1), c in zip(PHASES, PHASE_COLORS):
    fig.add_artist(Rectangle((x0, 1 - 1179 / H), x1 - x0, (1179 - 21) / H, transform=trans,
                             facecolor=c, edgecolor="none", alpha=0.2, zorder=5))

fig.savefig("out.png", dpi=100)
